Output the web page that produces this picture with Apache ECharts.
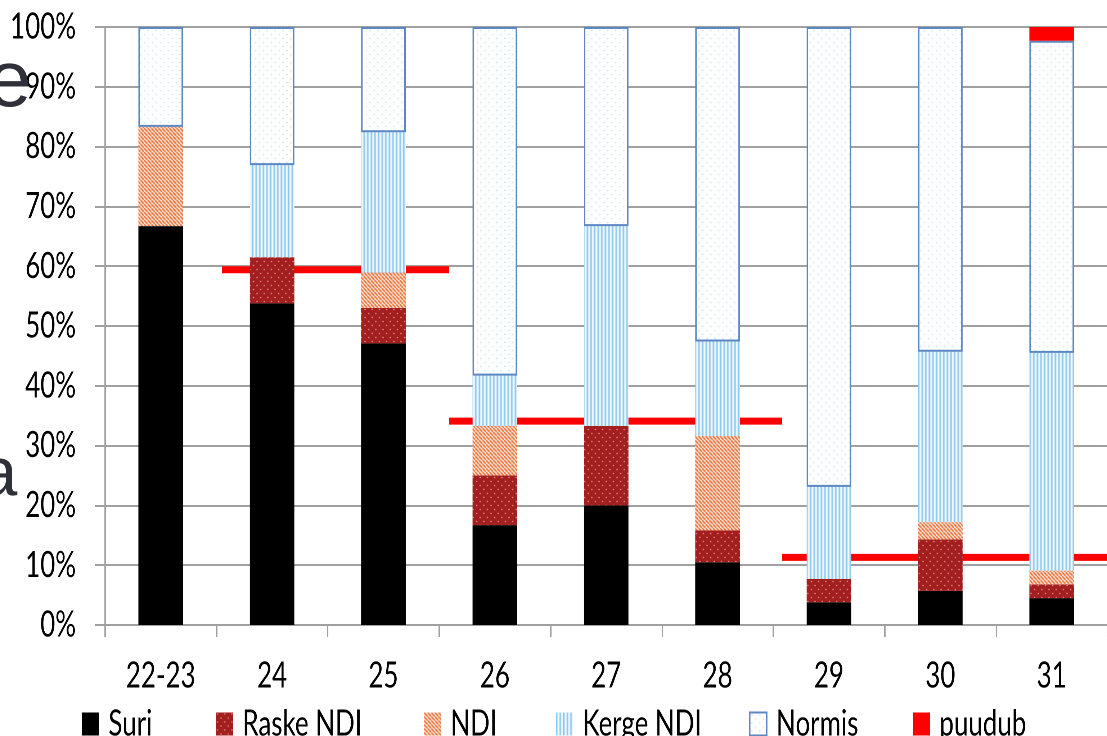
<!DOCTYPE html>
<html>
<head>
<meta charset="utf-8">
<script src="https://cdn.jsdelivr.net/npm/echarts@6/dist/echarts.min.js"></script>
<style>
  html, body { margin: 0; padding: 0; background: #fff; overflow: hidden; }
  #frame { width: 1107px; height: 736px; overflow: hidden; position: relative; }
  /* The chart is laid out wider and squeezed horizontally to get narrow lettering */
  #chart { position: absolute; left: 0; top: 0; height: 736px; transform-origin: 0 0; }
</style>
</head>
<body>
<div id="frame"><div id="chart"></div></div>
<script>
// Age groups along the x axis
const categories = ['22-23', '24', '25', '26', '27', '28', '29', '30', '31'];

// Share of each outcome per age group (percent, each column sums to 100)
const suri     = [66.7, 53.8, 47.1, 16.7, 20.0, 10.5, 3.8, 5.7, 4.5];
const raskeNdi = [0, 7.7, 5.9, 8.3, 13.3, 5.3, 3.9, 8.6, 2.3];
const ndi      = [16.6, 0, 5.9, 8.3, 0, 15.8, 0, 2.9, 2.3];
const kergeNdi = [0, 15.4, 23.5, 8.4, 33.4, 15.8, 15.4, 28.5, 36.4];
const normis   = [16.7, 23.1, 17.6, 58.3, 33.3, 52.6, 76.9, 54.3, 52.2];
const puudub   = [0, 0, 0, 0, 0, 0, 0, 0, 2.3];

// Group reference levels (percent) and their extents in category units
const refLevels = [59.4, 34.1, 11.3];
const refFrom   = [1.05, 3.09, 6.08];
const refTo     = [3.09, 6.08, 9];

const yTicks = [0, 10, 20, 30, 40, 50, 60, 70, 80, 90, 100];

// Horizontal squeeze factor; x positions below are given in page pixels and divided by it
const SX = 0.72;
const px = v => v / SX;

const FONT = 'Lato, "Liberation Sans", sans-serif';
const FS = 36;

const el = document.getElementById('chart');
el.style.width = px(1107) + 'px';
el.style.transform = 'scaleX(' + SX + ')';

// Small canvas tiles used as fill patterns
function tile(w, h, draw) {
  const c = document.createElement('canvas');
  c.width = w; c.height = h;
  const g = c.getContext('2d');
  draw(g);
  return { image: c, repeat: 'repeat' };
}

const dotsRed = tile(10, 8, g => {
  g.fillStyle = '#A31F1F'; g.fillRect(0, 0, 10, 8);
  g.fillStyle = '#E8A4A4';
  g.fillRect(1, 1, 2, 1); g.fillRect(6, 5, 2, 1);
});

const hatchOrange = tile(5, 4, g => {
  g.fillStyle = '#FFFFFF'; g.fillRect(0, 0, 5, 4);
  g.strokeStyle = '#E8692C';
  g.lineWidth = 1.8;
  for (let k = -2; k <= 2; k++) {
    g.beginPath();
    g.moveTo(k * 5, 0);
    g.lineTo(k * 5 + 5, 4);
    g.stroke();
  }
});

const stripesBlue = tile(5, 1, g => {
  const cols = ['#86C5EC', '#9FD1F0', '#E4F3FC', '#F6FBFE', '#D6ECFA'];
  cols.forEach((c, i) => { g.fillStyle = c; g.fillRect(i, 0, 1, 1); });
});

const dotsLight = tile(11, 8, g => {
  g.fillStyle = '#FFFFFF'; g.fillRect(0, 0, 11, 8);
  g.fillStyle = '#B2DEE6';
  g.fillRect(2, 2, 2, 1); g.fillRect(7, 6, 2, 1);
});

const seriesDefs = [
  { name: 'Suri',      data: suri,     itemStyle: { color: '#000000' } },
  { name: 'Raske NDI', data: raskeNdi, itemStyle: { color: dotsRed } },
  { name: 'NDI',       data: ndi,      itemStyle: { color: hatchOrange } },
  { name: 'Kerge NDI', data: kergeNdi, itemStyle: { color: stripesBlue } },
  { name: 'Normis',    data: normis,   itemStyle: { color: dotsLight, borderColor: '#5B87C3', borderWidth: 2 } },
  { name: 'puudub',    data: puudub,   itemStyle: { color: '#FF0000' } }
];

const barSeries = seriesDefs.map(s => ({
  name: s.name,
  type: 'bar',
  stack: 'total',
  barWidth: '40%',
  xAxisIndex: 0,
  yAxisIndex: 0,
  z: 3,
  data: s.data,
  itemStyle: s.itemStyle,
  emphasis: { disabled: true }
}));

const refSeries = refLevels.map((lv, i) => ({
  type: 'line',
  xAxisIndex: 1,
  yAxisIndex: 0,
  z: 1,
  symbol: 'none',
  silent: true,
  lineStyle: { color: '#FF0000', width: 7, cap: 'butt' },
  data: [[refFrom[i], lv], [refTo[i], lv]]
}));

// One legend per entry so each item sits at its own column
const legendLeft = [82, 216, 424, 556, 749, 913];
const legends = seriesDefs.map((s, i) => ({
  data: [s.name],
  left: px(legendLeft[i]),
  top: 706,
  padding: 0,
  itemWidth: px(17),
  itemHeight: 23,
  itemGap: 0,
  icon: 'rect',
  selectedMode: false,
  textStyle: { fontFamily: FONT, fontSize: FS, color: '#000', lineHeight: 23, padding: [0, 0, 0, 8] }
}));

const chart = echarts.init(el, null, { renderer: 'canvas', devicePixelRatio: 2 });

chart.setOption({
  animation: false,
  backgroundColor: '#FFFFFF',
  grid: { left: px(105), right: 0, top: 27, bottom: 111, containLabel: false, outerBoundsMode: 'none' },
  legend: legends,
  xAxis: [
    {
      type: 'category',
      data: categories,
      axisLine: { lineStyle: { color: '#A0A0A0', width: 2 } },
      axisTick: { show: true, length: 12, interval: 0, alignWithLabel: false, lineStyle: { color: '#A0A0A0', width: 2 } },
      axisLabel: { interval: 0, margin: 33, fontFamily: FONT, fontSize: FS, color: '#000' },
      splitLine: { show: false }
    },
    {
      type: 'value',
      min: 0,
      max: 9,
      show: false,
      splitLine: { show: false }
    }
  ],
  yAxis: {
    type: 'value',
    min: yTicks[0],
    max: yTicks[yTicks.length - 1],
    interval: 10,
    axisLine: { show: true, lineStyle: { color: '#A0A0A0', width: 2 } },
    axisTick: { show: true, length: px(10), lineStyle: { color: '#A0A0A0', width: 2 } },
    axisLabel: { margin: px(29), fontFamily: FONT, fontSize: FS, color: '#000', formatter: '{value}%' },
    splitLine: { show: true, lineStyle: { color: '#A0A0A0', width: 2 } }
  },
  graphic: [
    {
      type: 'text', x: px(-13), y: 44, scaleX: 1 / SX, z: 10, silent: true,
      style: { text: 'e', fontFamily: '"Liberation Sans", sans-serif', fontSize: 80, fill: '#30303A', verticalAlign: 'top', align: 'left' }
    },
    {
      type: 'text', x: px(-21), y: 442, scaleX: 1 / SX, z: 10, silent: true,
      style: { text: 'a', fontFamily: '"Liberation Sans", sans-serif', fontSize: 69, fill: '#30303A', verticalAlign: 'top', align: 'left' }
    }
  ],
  series: [...refSeries, ...barSeries]
});
</script>
</body>
</html>
